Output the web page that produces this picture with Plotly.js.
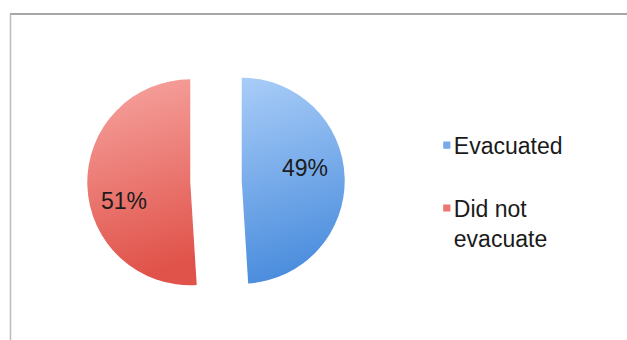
<!DOCTYPE html>
<html>
<head>
<meta charset="utf-8">
<script src="https://cdn.plot.ly/plotly-3.0.1.min.js"></script>
<style>
  html, body { margin: 0; padding: 0; background: #ffffff; }
  #chart { width: 627px; height: 340px; }
</style>
</head>
<body>
<div id="chart"></div>
<script>
// Share of residents by evacuation outcome
const categories = ['Evacuated', 'Did not evacuate'];
const legendLabels = ['Evacuated<br> ', 'Did not<br>evacuate'];
const shares = [49, 51];
const sliceColors = ['#78aaea', '#ec7771'];
// top / bottom stops of the shaded slice fills
const gradientStops = [['#a9cdf8', '#4b8ddd'], ['#f7a5a1', '#e0534a']];
// where each percentage label sits (paper pixels)
const labelSpots = [[305, 168], [123.5, 200.5]];

const W = 627, H = 340;
const FONT = 'Liberation Sans, Arial, sans-serif';

const total = shares.reduce((a, b) => a + b, 0);

const trace = {
  type: 'pie',
  labels: legendLabels,
  values: shares,
  customdata: categories,
  sort: false,
  direction: 'clockwise',
  rotation: 0,
  pull: [0.25, 0.25],
  marker: { colors: sliceColors, line: { width: 0 } },
  textinfo: 'none',
  hovertemplate: '%{customdata}: %{percent}<extra></extra>',
  domain: { x: [0.1392, 0.5498], y: [0.0875, 0.8449] }
};

const annotations = shares.map((v, i) => ({
  text: Math.round(v / total * 100) + '%',
  xref: 'paper', yref: 'paper',
  x: labelSpots[i][0] / W, y: 1 - labelSpots[i][1] / H,
  xanchor: 'center', yanchor: 'middle',
  showarrow: false,
  font: { family: FONT, size: 23, color: '#1c1c1c' }
}));

const layout = {
  width: W,
  height: H,
  margin: { l: 0, r: 0, t: 0, b: 0 },
  paper_bgcolor: '#ffffff',
  plot_bgcolor: '#ffffff',
  showlegend: true,
  legend: {
    x: 0.660, y: 0.636, xanchor: 'left', yanchor: 'top',
    valign: 'top',
    tracegroupgap: 0,
    font: { family: FONT, size: 23, color: '#1a1a1a' },
    bgcolor: 'rgba(0,0,0,0)'
  },
  annotations: annotations,
  shapes: [
    // frame: top and left edges of the chart area
    { type: 'line', xref: 'paper', yref: 'paper', x0: 10 / W, x1: 1, y0: 1 - 14 / H, y1: 1 - 14 / H,
      line: { color: '#a6a6a6', width: 2 } },
    { type: 'line', xref: 'paper', yref: 'paper', x0: 10.5 / W, x1: 10.5 / W, y0: 0, y1: 1 - 14 / H,
      line: { color: '#bcbcbc', width: 1.5 } }
  ]
};

Plotly.newPlot('chart', [trace], layout, { displayModeBar: false, staticPlot: true }).then(gd => {
  // give each slice a vertical light-to-dark shading
  const svg = gd.querySelector('svg.main-svg');
  const ns = 'http://www.w3.org/2000/svg';
  let defs = svg.querySelector('defs');
  if (!defs) { defs = document.createElementNS(ns, 'defs'); svg.insertBefore(defs, svg.firstChild); }
  gradientStops.forEach((stops, i) => {
    const g = document.createElementNS(ns, 'linearGradient');
    g.setAttribute('id', 'sliceShade' + i);
    g.setAttribute('x1', '0'); g.setAttribute('y1', '0');
    g.setAttribute('x2', '0.15'); g.setAttribute('y2', '1');
    stops.forEach((c, k) => {
      const s = document.createElementNS(ns, 'stop');
      s.setAttribute('offset', k === 0 ? '0' : '1');
      s.setAttribute('stop-color', c);
      g.appendChild(s);
    });
    defs.appendChild(g);
  });
  gd.querySelectorAll('g.slice path.surface').forEach((p, i) => {
    p.style.fill = 'url(#sliceShade' + i + ')';
  });
  // smaller legend swatches, set closer to their text
  gd.querySelectorAll('g.legendpoints path').forEach(p => {
    const t = p.getAttribute('transform') || '';
    p.setAttribute('transform', t + ' translate(13,0) scale(0.6)');
  });
});
</script>
</body>
</html>
